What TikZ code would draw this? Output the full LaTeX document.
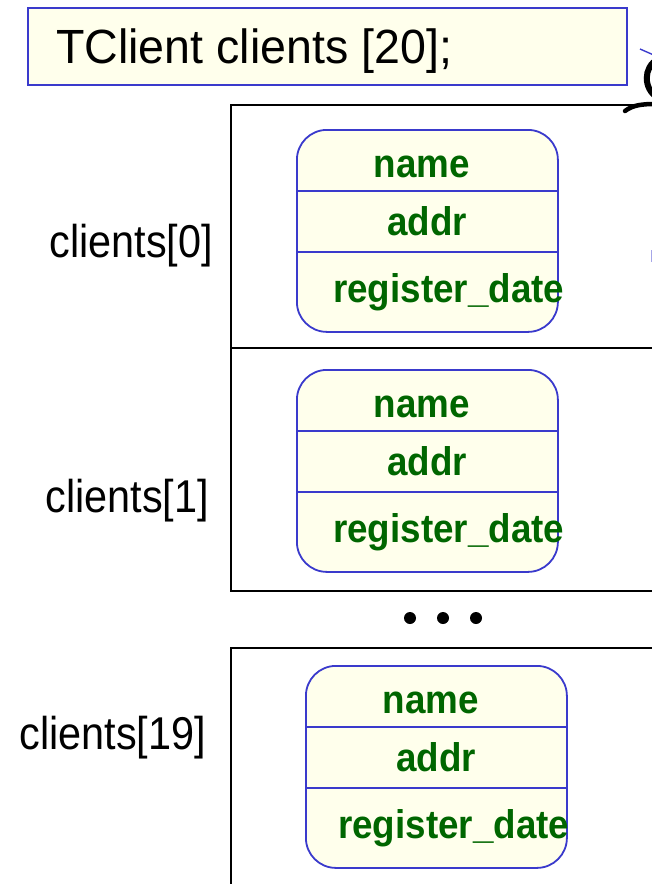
\documentclass[tikz,border=0pt]{standalone}
\usepackage{fontspec}
\setmainfont{Liberation Sans}
\newfontfamily\titlefont[FakeStretch=0.97]{Liberation Sans}
\newfontfamily\labelfont[FakeStretch=0.9]{Liberation Sans}
\newfontfamily\fieldfont[FakeStretch=0.92]{Liberation Sans Bold}
\usetikzlibrary{calc}
\definecolor{edgeblue}{HTML}{3A3ACC}
\definecolor{paleyellow}{HTML}{FFFFEC}
\definecolor{fieldgreen}{HTML}{006600}
\tikzset{
  declbox/.style={draw=edgeblue, fill=paleyellow, line width=1.8pt, inner sep=0pt,
    minimum width=599pt, minimum height=77pt, anchor=north west},
  declText/.style={anchor=base west, inner sep=0pt, font=\titlefont\fontsize{48}{56}\selectfont},
  cellbox/.style={draw=black, line width=2.4pt, inner sep=0pt, minimum width=460pt, anchor=north west},
  record/.style={draw=edgeblue, fill=paleyellow, line width=1.8pt, rounded corners=30pt,
    inner sep=0pt, minimum width=261pt, minimum height=202pt, anchor=north west},
  divider/.style={draw=edgeblue, line width=1.8pt},
  fieldtext/.style={inner sep=0pt, text=fieldgreen, font=\fieldfont\fontsize{40}{48}\selectfont},
  indexlabel/.style={anchor=base east, inner sep=0pt, font=\labelfont\fontsize{46}{54}\selectfont},
  ellipsisdot/.style={circle, fill=black, inner sep=0pt, minimum size=12pt}
}
\begin{document}
\begin{tikzpicture}[x=1pt, y=-1pt]
\useasboundingbox (0,0) rectangle (652,884);
\clip (0,0) rectangle (652,884);

% declaration
\node[declbox] (decl) at (27,7) {};
\node[declText] (declname) at (56,63) {TClient clients [20];};

% array cells
\node[cellbox, minimum height=243pt] (cell0) at (230,104) {};
\node[cellbox, minimum height=243pt] (cell1) at (230,347) {};
\node[cellbox, minimum height=260pt] (cell2) at (230,647) {};

% index labels
\node[indexlabel] (lab0) at (213,257) {clients[0]};
\node[indexlabel] (lab1) at (209,512) {clients[1]};
\node[indexlabel] (lab2) at (206,749) {clients[19]};

% ellipsis between the cells
\node[ellipsisdot] (dotA) at (410,618) {};
\node[ellipsisdot] (dotB) at (443,618) {};
\node[ellipsisdot] (dotC) at (476,618) {};

% one record per cell
\foreach \i/\x/\y/\rx in {0/296/129/37, 1/296/369/37, 2/305/665/33} {
  \node[record] (rec\i) at (\x,\y) {};
  \draw[divider] ($(rec\i.north west)+(0,62)$) -- ($(rec\i.north east)+(0,62)$);
  \draw[divider] ($(rec\i.north west)+(0,123)$) -- ($(rec\i.north east)+(0,123)$);
  \node[fieldtext, anchor=base] (name\i) at ($(rec\i.north west)+(126,48)$) {name};
  \node[fieldtext, anchor=base] (addr\i) at ($(rec\i.north west)+(131,106)$) {addr};
  \node[fieldtext, anchor=base west] (date\i) at ($(rec\i.north west)+(\rx,173)$) {register\_date};
}

% pieces of neighbouring artwork cut by the right edge
\draw[edgeblue, line width=1.4pt] (640,49) -- (656,56);
\draw[line width=6pt] (658,59) .. controls (643,67) and (643,89) .. (658,98);
\draw[line width=4.5pt, line cap=round] (625,111) .. controls (633,105) and (642,104) .. (656,104);
\draw[edgeblue!45, line width=1.4pt] (651.5,250) -- (651.5,262);
\end{tikzpicture}
\end{document}
